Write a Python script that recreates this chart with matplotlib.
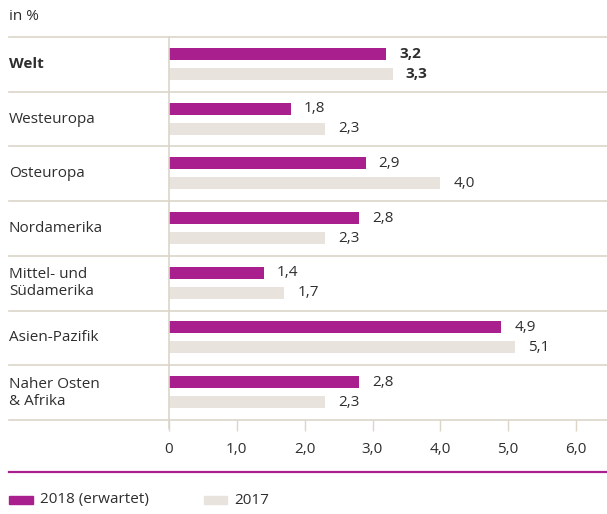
import matplotlib
matplotlib.use("Agg")
import matplotlib.pyplot as plt
from matplotlib.patches import Rectangle
from matplotlib.lines import Line2D

plt.rcParams['font.family'] = ['Open Sans', 'DejaVu Sans']

categories = ["Welt", "Westeuropa", "Osteuropa", "Nordamerika",
              "Mittel- und\nSüdamerika", "Asien-Pazifik", "Naher Osten\n& Afrika"]
values_2018 = [3.2, 1.8, 2.9, 2.8, 1.4, 4.9, 2.8]
values_2017 = [3.3, 2.3, 4.0, 2.3, 1.7, 5.1, 2.3]
tick_values = [0, 1, 2, 3, 4, 5, 6]
tick_labels = ["0", "1,0", "2,0", "3,0", "4,0", "5,0", "6,0"]
series_names = ["2018 (erwartet)", "2017"]

MAGENTA = "#A91F8D"
GREY = "#E8E4DD"
LINE = "#DCD5C8"
TEXT = "#2E2E2E"
FS = 11

W, H = 607, 514
fig = plt.figure(figsize=(W / 100, H / 100), dpi=100)

def fx(px):
    return px / W

def fy(py):
    return 1 - py / H

ax_left, ax_right, ax_top, ax_bottom = 169, 607, 37, 420
ax = fig.add_axes([fx(ax_left), fy(ax_bottom), fx(ax_right - ax_left), (ax_bottom - ax_top) / H])
px_per_unit = (576 - 169) / 6.0
ax.set_xlim(0, (ax_right - ax_left) / px_per_unit)
n = len(categories)
ax.set_ylim(n, 0)

row_px = (ax_bottom - ax_top) / n
bar_h = 12 / row_px
off18 = -10.5 / row_px
off17 = 9.5 / row_px
ypos = [i + 0.5 for i in range(n)]

ax.barh([y + off18 for y in ypos], values_2018, height=bar_h, color=MAGENTA, left=0)
ax.barh([y + off17 for y in ypos], values_2017, height=bar_h, color=GREY, left=0)

gap = 13 / px_per_unit
for i, (y, a, b) in enumerate(zip(ypos, values_2018, values_2017)):
    w = 'bold' if i == 0 else 'normal'
    ax.text(a + gap, y + off18, f"{a:.1f}".replace('.', ','), va='center', ha='left',
            fontsize=FS, color=TEXT, fontweight=w)
    ax.text(b + gap, y + off17, f"{b:.1f}".replace('.', ','), va='center', ha='left',
            fontsize=FS, color=TEXT, fontweight=w)

for s in ax.spines.values():
    s.set_visible(False)
ax.set_yticks([])
ax.set_xticks(tick_values)
ax.set_xticklabels(tick_labels, fontsize=FS, color=TEXT)
ax.tick_params(axis='x', length=8, width=1, color=LINE, pad=8)

# separators spanning to the left edge
xmin_frac = (9 - ax_left) / (ax_right - ax_left)
for k in range(n + 1):
    ax.axhline(k, xmin=xmin_frac, xmax=1, color=LINE, lw=1.2, clip_on=False, zorder=0)
# vertical zero line down to tick end
fig.add_artist(Line2D([fx(ax_left), fx(ax_left)], [fy(ax_top), fy(ax_bottom + 8)],
                      color=LINE, lw=1.2))

blend = matplotlib.transforms.blended_transform_factory(fig.transFigure, ax.transData)
for i, (y, c) in enumerate(zip(ypos, categories)):
    ax.text(fx(9), y, c, transform=blend,
            va='center', ha='left', fontsize=FS, color=TEXT,
            fontweight='bold' if i == 0 else 'normal', linespacing=1.2)

fig.text(fx(9), fy(17), "in %", fontsize=FS, color=TEXT, va='center', ha='left')

# magenta rule
fig.add_artist(Line2D([fx(9), 1], [fy(472), fy(472)], color=MAGENTA, lw=1.6))

# legend
fig.add_artist(Rectangle((fx(9), fy(504)), fx(24), 8 / H, color=MAGENTA, transform=fig.transFigure))
fig.text(fx(40), fy(500), series_names[0], fontsize=FS, color=TEXT, va='center', ha='left')
fig.add_artist(Rectangle((fx(204), fy(504)), fx(23), 8 / H, color=GREY, transform=fig.transFigure))
fig.text(fx(234), fy(500), series_names[1], fontsize=FS, color=TEXT, va='center', ha='left')

fig.savefig("out.png", dpi=100)
